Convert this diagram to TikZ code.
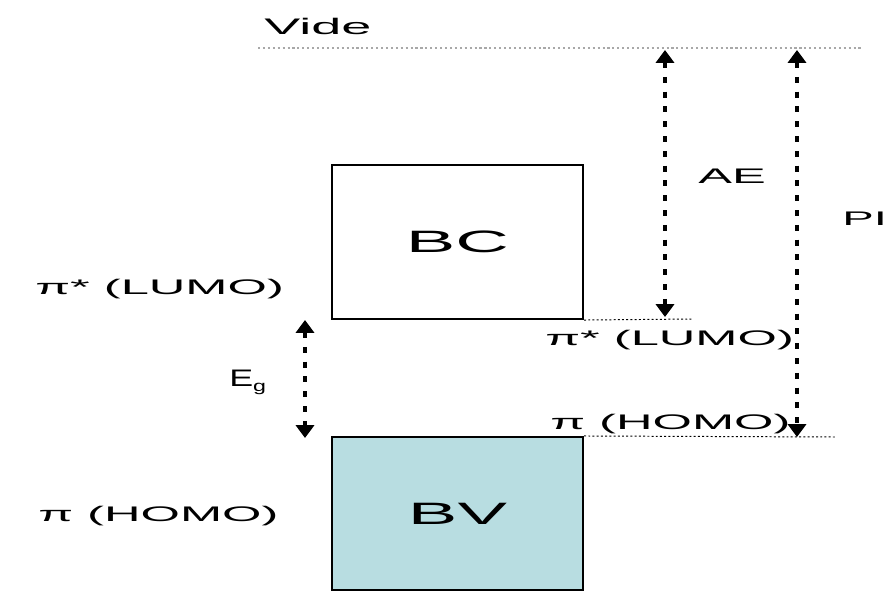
\documentclass[tikz,border=0pt]{standalone}
\usepackage{fontspec}
\setmainfont{Liberation Sans}
\newfontfamily\widefont[FakeStretch=2.4]{Liberation Sans}
\newfontfamily\narrowfont[FakeStretch=1.5]{Liberation Sans}
\usepackage{tikz}
\usetikzlibrary{arrows.meta}
\definecolor{ink}{HTML}{000000}
\definecolor{bvfill}{HTML}{B8DDE1}
\definecolor{vacgray}{HTML}{A8A8A8}
\tikzset{
  band/.style = {rectangle, draw=ink, line width=0.05cm, fill=white,
                 minimum width=6.275cm, minimum height=3.85cm,
                 font=\widefont\fontsize{22}{26}\selectfont},
  lbl/.style  = {anchor=west, inner sep=0pt,
                 font=\widefont\fontsize{15}{18}\selectfont},
  lvl/.style  = {draw=ink, line width=0.7pt, dash pattern=on 1.4pt off 1.6pt},
  vac/.style  = {draw=vacgray, line width=1.1pt, dash pattern=on 1.5pt off 2pt},
  gap/.style  = {{Triangle[length=0.32cm,width=0.45cm]}-{Triangle[length=0.32cm,width=0.45cm]},
                 line width=0.1cm, dash pattern=on 0.15cm off 0.22cm, draw=ink},
}

\begin{document}
\begin{tikzpicture}[x=0.025cm, y=-0.025cm]
  \useasboundingbox (0,0) rectangle (890,593);

  % ----- vacuum level -----
  \node[lbl, font=\widefont\fontsize{16}{18}\selectfont] (vide) at (264,26) {Vide};
  \coordinate (vacl) at (258,48);
  \coordinate (vacr) at (862,48);
  \draw[vac] (vacl) -- (vacr);

  % ----- bands -----
  \node[band] (bc) at (457.5,242) {BC};
  \node[band, fill=bvfill, minimum height=3.825cm] (bv) at (457.5,513.5) {BV};

  % ----- level lines -----
  \coordinate (lumoend) at (693,319);
  \coordinate (homoend) at (835,437);
  \draw[lvl] (bc.south east) -- (lumoend);
  \draw[lvl] (bv.north east) -- (homoend);

  % ----- labels -----
  \node[lbl] (lumol) at (35,289) {π* (LUMO)};
  \node[lbl] (homol) at (38,516) {π (HOMO)};
  \node[lbl] (lumor) at (545,340) {π* (LUMO)};
  \node[lbl] (homor) at (550,424) {π (HOMO)};

  % ----- energy arrows -----
  \coordinate (aetop) at (665,50);
  \coordinate (aebot) at (665,317);
  \coordinate (pitop) at (797,50);
  \coordinate (pibot) at (797,437);
  \coordinate (egtop) at (305,320);
  \coordinate (egbot) at (305,438);
  \draw[gap] (aetop) -- (aebot);
  \draw[gap] (pitop) -- (pibot);
  \draw[gap] (egtop) -- (egbot);

  \node[lbl] (ae) at (698,176) {AE};
  \node[lbl, font=\widefont\fontsize{14}{16}\selectfont] (pi) at (842,219) {PI};
  \node[lbl, font=\narrowfont\fontsize{17}{19}\selectfont] (eg) at (229,382)
       {E\raisebox{-3.5pt}{\fontsize{11}{11}\selectfont g}};

\end{tikzpicture}
\end{document}
